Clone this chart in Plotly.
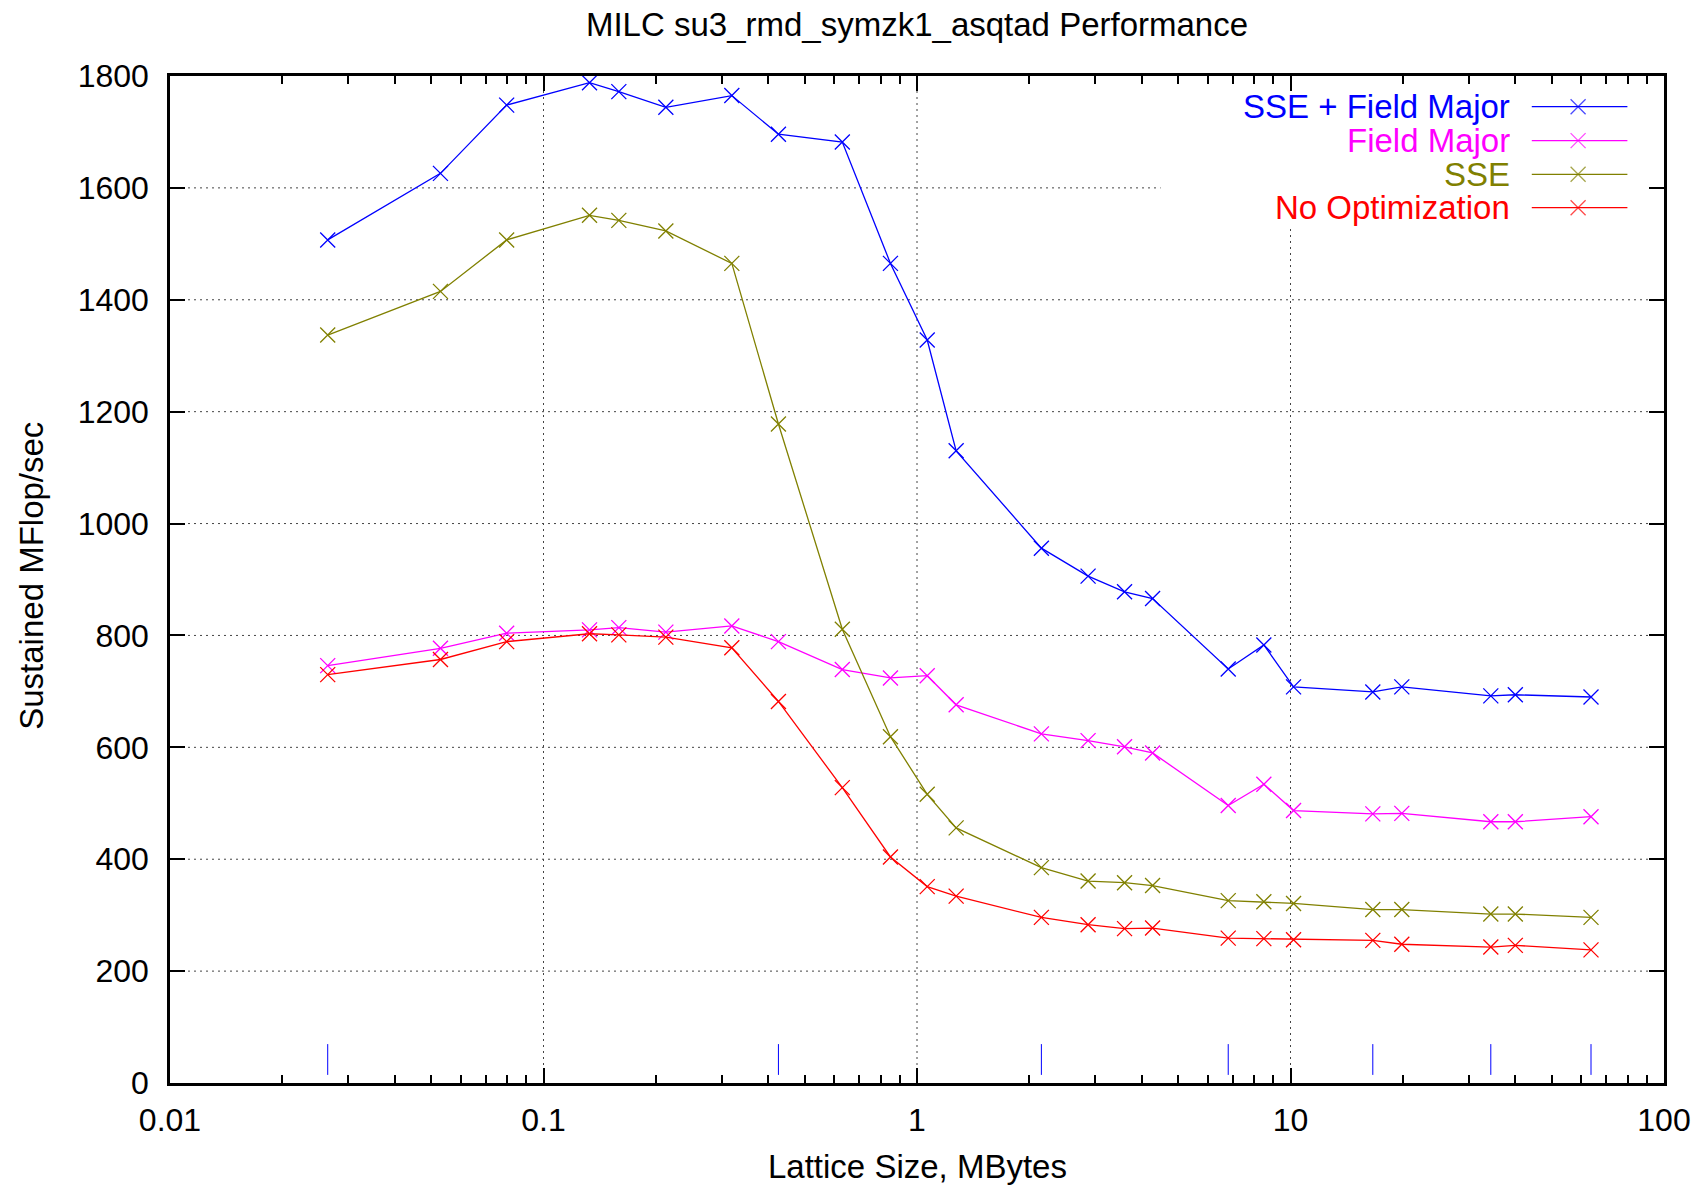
import plotly.graph_objects as go

# Lattice sizes (MBytes) at which each benchmark was run
lattice_mb = [0.02644, 0.05298, 0.07968, 0.1328, 0.1591, 0.2126, 0.3193, 0.4256,
              0.631, 0.849, 1.065, 1.273, 2.153, 2.871, 3.595, 4.273,
              6.812, 8.485, 10.19, 16.61, 19.86, 34.38, 39.99, 63.76]

# Sustained MFlop/sec for each build variant
sse_field_major = [1507, 1626, 1748, 1788, 1772, 1744, 1765, 1696, 1682, 1465, 1328, 1130,
                   956, 906, 878, 866, 740, 783, 708, 699, 708, 692, 694, 690]
field_major = [746, 777, 804, 810, 814, 806, 817, 789, 739, 724, 728, 676,
               624, 612, 601, 590, 496, 534, 487, 481, 482, 467, 467, 476]
sse_only = [1337, 1415, 1507, 1551, 1542, 1523, 1465, 1178, 811, 619, 516, 456,
            385, 361, 358, 353, 326, 324, 321, 310, 310, 302, 302, 296]
no_opt = [730, 757, 789, 803, 801, 797, 778, 682, 528, 404, 351, 334,
          296, 283, 276, 277, 259, 258, 256, 255, 248, 243, 246, 238]

# Lattice sizes flagged with short marks along the bottom
flagged_mb = [0.02644, 0.4256, 2.153, 6.812, 16.61, 34.38, 63.76]

series = [
    ("SSE + Field Major", sse_field_major, "#0000ff"),
    ("Field Major", field_major, "#ff00ff"),
    ("SSE", sse_only, "#808000"),
    ("No Optimization", no_opt, "#ff0000"),
]

y_ticks = [0, 200, 400, 600, 800, 1000, 1200, 1400, 1600, 1800]
x_ticks = [0.01, 0.1, 1, 10, 100]
x_tick_text = ["0.01", "0.1", "1", "10", "100"]

FONT = "Liberation Sans, Arial, Helvetica, sans-serif"

fig = go.Figure()

# dotted grid, interrupted where the key sits
gx, gy = [], []
for v in y_ticks[1:-1]:
    xe = 4.49 if v == 1600 else 100
    gx += [0.01, xe, None]
    gy += [v, v, None]
for v, top in [(0.1, 1800), (1, 1800), (10, 1530)]:
    gx += [v, v, None]
    gy += [0, top, None]
fig.add_trace(go.Scatter(x=gx, y=gy, mode="lines", showlegend=False, hoverinfo="skip",
                         line=dict(color="#444444", width=1, dash="2px,4px")))

for name, vals, col in series:
    fig.add_trace(go.Scatter(
        x=lattice_mb, y=vals, mode="lines+markers", name=name, showlegend=False,
        line=dict(color=col, width=1.3),
        marker=dict(symbol="x-thin", size=15, line=dict(color=col, width=1.3)),
    ))

fig.add_trace(go.Scatter(
    x=flagged_mb, y=[42] * len(flagged_mb), mode="markers", showlegend=False,
    hoverinfo="skip",
    marker=dict(symbol="line-ns", size=22, line=dict(color="#0000ff", width=1)),
))

# key: right-aligned labels with line samples to their right
rows = [0.9695, 0.9358, 0.9024, 0.8692]
for (name, vals, col), ry in zip(series, rows):
    fig.add_annotation(x=0.8985, y=ry, xref="paper", yref="paper", text=name,
                       showarrow=False, xanchor="right", yanchor="middle",
                       font=dict(family=FONT, size=33, color=col))
    fig.add_trace(go.Scatter(
        x=[0.9115, 0.9425, 0.9755], y=[ry] * 3, xaxis="x2", yaxis="y2",
        mode="lines+markers", showlegend=False, hoverinfo="skip",
        line=dict(color=col, width=1.3),
        marker=dict(symbol="x-thin", size=[0, 15, 0], line=dict(color=col, width=1.3)),
    ))

fig.add_annotation(x=0.5, y=-0.0834, xref="paper", yref="paper",
                   text="Lattice Size, MBytes", showarrow=False,
                   xanchor="center", yanchor="middle",
                   font=dict(family=FONT, size=33, color="black"))
fig.add_annotation(x=-0.0925, y=0.5035, xref="paper", yref="paper",
                   text="Sustained MFlop/sec", showarrow=False, textangle=-90,
                   xanchor="center", yanchor="middle",
                   font=dict(family=FONT, size=33, color="black"))

axis_common = dict(showline=True, linecolor="black", linewidth=2.5, mirror="allticks",
                   ticks="inside", tickcolor="black", tickwidth=2, ticklen=15,
                   showgrid=False, zeroline=False,
                   tickfont=dict(family=FONT, size=32, color="black"))

fig.update_layout(
    width=1703, height=1186,
    margin=dict(l=170, r=35, t=76, b=103),
    paper_bgcolor="white", plot_bgcolor="white",
    title=dict(text="MILC su3_rmd_symzk1_asqtad Performance",
               x=0.5, xref="paper", xanchor="center",
               y=1 - 24 / 1186, yref="container", yanchor="middle",
               font=dict(family=FONT, size=33, color="black")),
    xaxis=dict(type="log", range=[-2, 2], tickvals=x_ticks, ticktext=x_tick_text,
               ticklabelstandoff=7,
               minor=dict(ticks="inside", ticklen=8, tickwidth=2, tickcolor="black",
                          dtick="D1", showgrid=False),
               **axis_common),
    yaxis=dict(range=[0, 1800], tickvals=y_ticks, ticklabelstandoff=12, **axis_common),
    xaxis2=dict(overlaying="x", range=[0, 1], visible=False, fixedrange=True),
    yaxis2=dict(overlaying="y", range=[0, 1], visible=False, fixedrange=True),
)

fig.write_html("out.html")
